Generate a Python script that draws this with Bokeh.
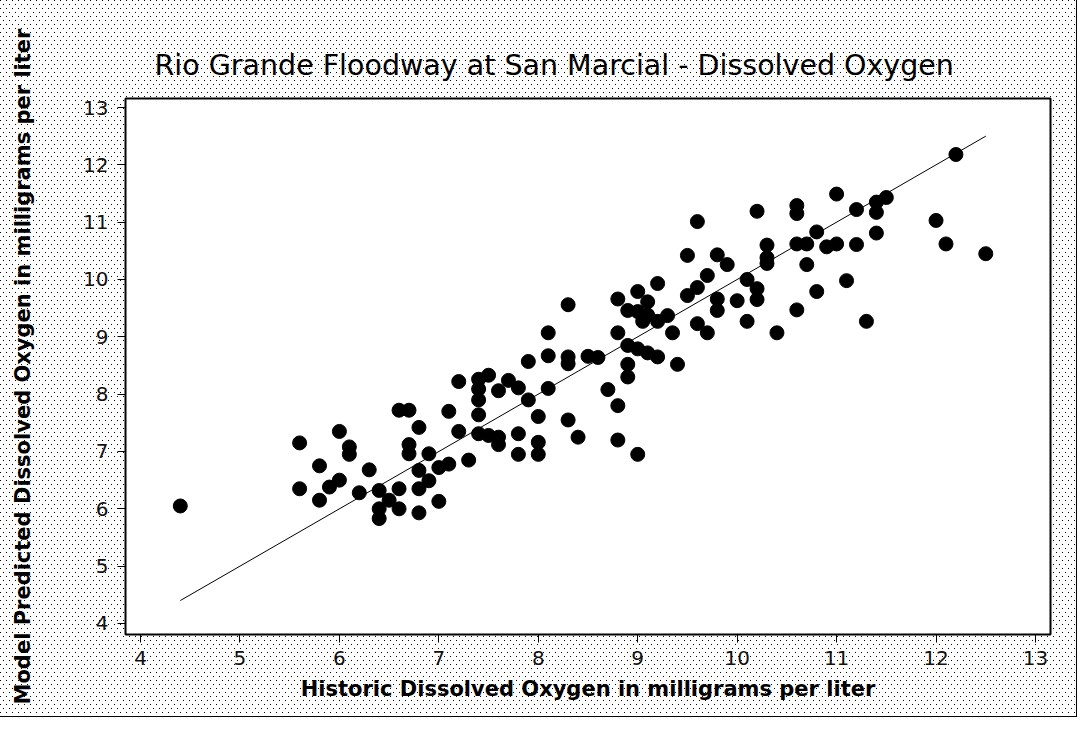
from bokeh.plotting import figure
from bokeh.models import FixedTicker, Range1d
from bokeh.embed import file_html
from bokeh.resources import INLINE

# Historic (observed) vs model-predicted dissolved oxygen, mg/L
historic = [
    4.4, 5.6, 5.6, 5.8, 5.8, 5.9, 6.0, 6.0, 6.1, 6.1,
    6.2, 6.3, 6.4, 6.4, 6.4, 6.5, 6.6, 6.6, 6.6, 6.7,
    6.7, 6.7, 6.8, 6.8, 6.8, 6.8, 6.9, 6.9, 7.0, 7.1,
    7.0, 7.1, 7.2, 7.2, 7.3, 7.4, 7.4, 7.4, 7.4, 7.4,
    7.5, 7.5, 7.6, 7.6, 7.6, 7.7, 7.8, 7.8, 7.8, 7.9,
    7.9, 8.0, 8.0, 8.0, 8.1, 8.1, 8.1, 8.3, 8.3, 8.3,
    8.3, 8.4, 8.5, 8.6, 8.7, 8.8, 8.8, 8.8, 8.8, 8.9,
    8.9, 8.9, 8.9, 9.0, 9.0, 9.0, 9.0, 9.1, 9.1, 9.05,
    9.2, 9.1, 9.2, 9.2, 9.3, 9.35, 9.4, 9.5, 9.5, 9.6,
    9.6, 9.6, 9.7, 9.7, 9.8, 9.8, 9.8, 9.9, 10.0, 10.1,
    10.1, 10.2, 10.2, 10.2, 10.3, 10.3, 10.3, 10.4, 10.6, 10.6,
    10.6, 10.6, 10.7, 10.7, 10.8, 10.8, 10.9, 11.0, 11.0, 11.1,
    11.2, 11.2, 11.3, 11.4, 11.5, 11.4, 11.4, 12.0, 12.1, 12.2,
    12.5,
]
predicted = [
    6.05, 7.15, 6.35, 6.75, 6.15, 6.38, 7.35, 6.50, 7.08, 6.95,
    6.28, 6.68, 6.32, 6.00, 5.83, 6.15, 6.35, 6.00, 7.72, 7.72,
    7.12, 6.96, 7.42, 6.67, 6.35, 5.93, 6.96, 6.49, 6.72, 6.78,
    6.13, 7.70, 8.22, 7.35, 6.85, 8.26, 8.09, 7.90, 7.64, 7.31,
    8.33, 7.28, 7.25, 7.12, 8.06, 8.24, 8.11, 7.31, 6.95, 8.57,
    7.90, 7.61, 7.16, 6.95, 9.07, 8.67, 8.10, 9.56, 8.65, 8.53,
    7.55, 7.25, 8.66, 8.64, 8.08, 7.80, 7.20, 9.66, 9.07, 8.85,
    8.52, 8.30, 9.46, 6.95, 9.79, 9.44, 8.79, 9.61, 9.38, 9.27,
    9.27, 8.72, 8.65, 9.93, 9.37, 9.07, 8.52, 10.42, 9.72, 9.86,
    11.01, 9.23, 10.07, 9.07, 10.43, 9.66, 9.46, 10.26, 9.63, 10.00,
    9.27, 11.19, 9.84, 9.65, 10.60, 10.38, 10.28, 9.07, 11.29, 11.15,
    10.62, 9.47, 10.62, 10.26, 10.83, 9.79, 10.57, 10.62, 11.49, 9.98,
    11.22, 10.61, 9.27, 11.35, 11.43, 11.17, 10.81, 11.03, 10.62, 12.18,
    10.45,
]

# 1:1 reference line spanning the observed range
line_x = [4.4, 12.5]
line_y = [4.4, 12.5]

ticks = [4, 5, 6, 7, 8, 9, 10, 11, 12, 13]

title_text = "Rio Grande Floodway at San Marcial - Dissolved Oxygen"
x_label = "Historic Dissolved Oxygen in milligrams per liter"
y_label = "Model Predicted Dissolved Oxygen in milligrams per liter"

FONT = "DejaVu Sans"

dot_svg = ("url(\"data:image/svg+xml;utf8,<svg xmlns='http://www.w3.org/2000/svg' "
           "width='6' height='8'><rect x='0' y='0' width='1' height='1' fill='black'/>"
           "<rect x='3' y='4' width='1' height='1' fill='black'/></svg>\")")

p = figure(
    width=1076, height=716,
    output_backend="svg", toolbar_location=None,
    x_range=Range1d(3.849, 13.151), y_range=Range1d(3.808, 13.157),
    min_border_left=125, min_border_right=26,
    min_border_top=98, min_border_bottom=82,
)
p.styles = {
    "outline": "1px solid black",
    "background-color": "white",
    "background-image": dot_svg,
}
p.border_fill_color = None
p.background_fill_color = "white"
p.outline_line_color = "black"
p.outline_line_width = 2

p.title.text = title_text
p.title.align = "left"
p.title.offset = 29
p.title.standoff = 34
p.title.text_font = FONT
p.title.text_font_size = "28.5px"
p.title.text_font_style = "normal"
p.title.text_color = "black"

p.grid.visible = False

for ax in (p.xaxis[0], p.yaxis[0]):
    ax.ticker = FixedTicker(ticks=ticks)
    ax.minor_tick_line_color = None
    ax.major_tick_out = 8
    ax.major_tick_in = 0
    ax.major_tick_line_color = "black"
    ax.axis_line_color = "black"
    ax.major_label_text_font = FONT
    ax.major_label_text_font_size = "20px"
    ax.major_label_text_color = "#111111"
    ax.axis_label_text_font = FONT
    ax.axis_label_text_font_size = "21px"
    ax.axis_label_text_font_style = "bold"
    ax.axis_label_text_color = "black"

p.xaxis.axis_label = x_label
p.yaxis.axis_label = y_label
p.xaxis.major_label_standoff = 8
p.yaxis.major_label_standoff = 9
p.xaxis.axis_label_standoff = 9
p.yaxis.axis_label_standoff = 45

p.line(line_x, line_y, line_color="black", line_width=1)
p.scatter(historic, predicted, marker="circle", size=14,
          fill_color="black", line_color="black")

open("out.html", "w").write(file_html(p, INLINE))
